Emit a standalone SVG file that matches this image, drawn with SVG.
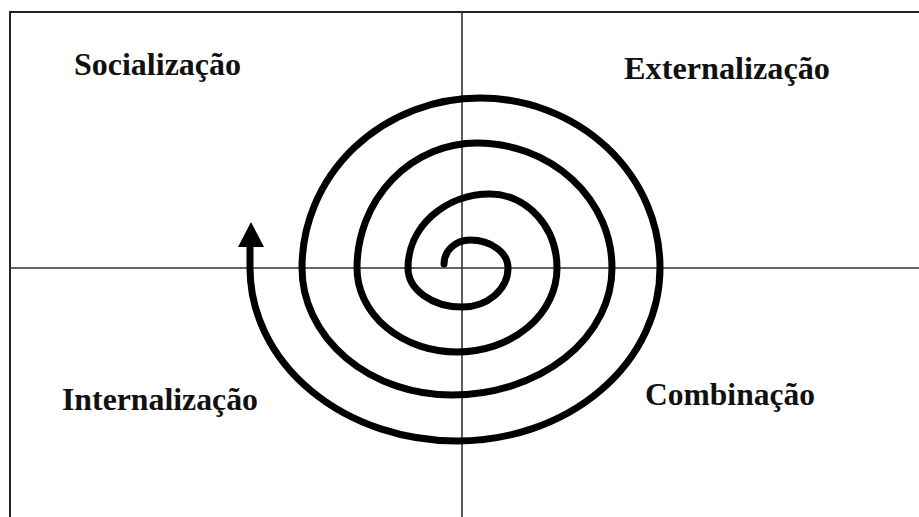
<svg xmlns="http://www.w3.org/2000/svg" width="919" height="517" viewBox="0 0 919 517">
<style>
.axis{stroke:#333;stroke-width:1.6;fill:none}
.frame{stroke:#222;stroke-width:2;fill:none}
.lbl{font-family:"Liberation Serif","Times New Roman",serif;font-weight:bold;font-size:32px;fill:#111}
.spiral{stroke:#000;stroke-width:7;fill:none;stroke-linecap:round}
</style>
<rect width="919" height="517" fill="#fff"/>
<g id="frame">
<path class="frame" d="M10,530 V12 H925"/>
</g>
<g id="axes">
<line class="axis" x1="462" y1="12" x2="462" y2="517"/>
<line class="axis" x1="10" y1="268" x2="919" y2="268"/>
</g>
<g id="socializacao"><text class="lbl" x="74" y="75" textLength="167" lengthAdjust="spacingAndGlyphs">Socialização</text></g>
<g id="externalizacao"><text class="lbl" x="624" y="79" textLength="206" lengthAdjust="spacingAndGlyphs">Externalização</text></g>
<g id="internalizacao"><text class="lbl" x="62" y="410" textLength="196" lengthAdjust="spacingAndGlyphs">Internalização</text></g>
<g id="combinacao"><text class="lbl" x="645" y="405" textLength="170" lengthAdjust="spacingAndGlyphs">Combinação</text></g>
<g id="connectors">
<path class="spiral" d="M444,264 A26,24 0 0 1 470,240 A38,28 0 0 1 508,268 A46,39 0 0 1 462,307 A54,39 0 0 1 408,268 A82,74 0 0 1 490,194 A67,74 0 0 1 557,268 A100,84 0 0 1 457,352 A100,84 0 0 1 357,268 A120,125 0 0 1 477,143 A135,125 0 0 1 612,268 A160,127 0 0 1 452,395 A150,127 0 0 1 302,268 A178,170 0 0 1 480,98 A180,170 0 0 1 660,268 A203,173 0 0 1 457,441 A207,173 0 0 1 250,268 L250,244"/>
<polygon points="251,222 264,247 238,247" fill="#000"/>
</g>
</svg>
